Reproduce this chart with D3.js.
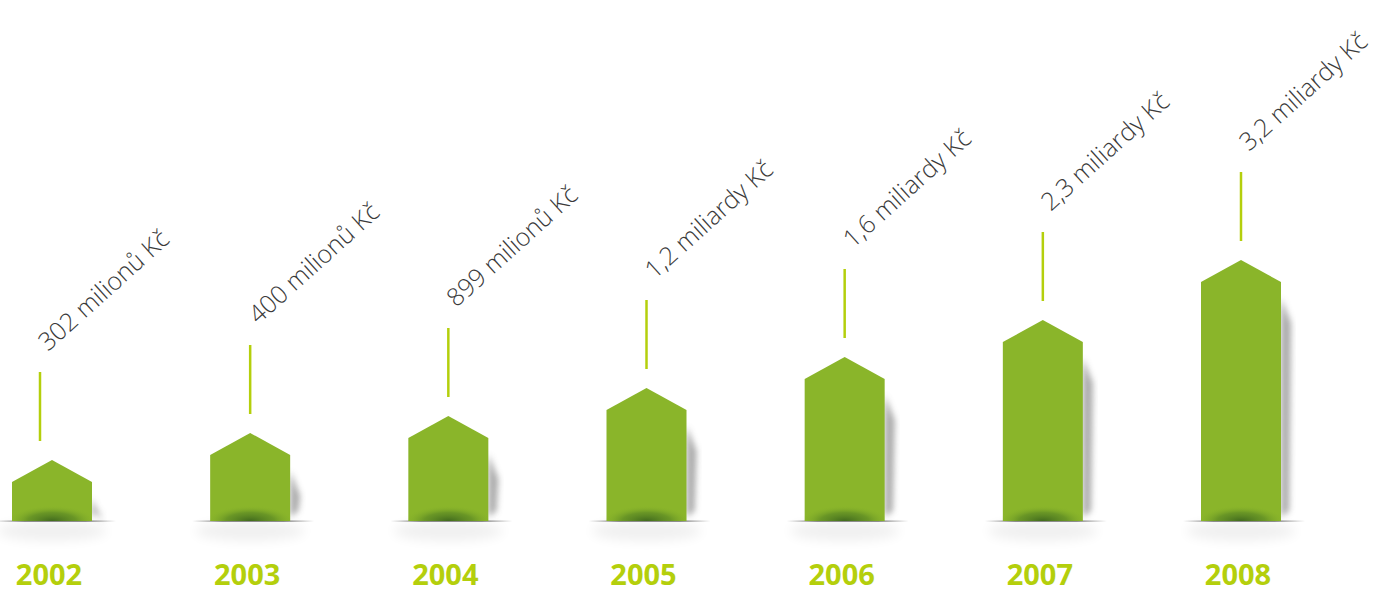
<!DOCTYPE html>
<html>
<head>
<meta charset="utf-8">
<script src="https://cdn.jsdelivr.net/npm/d3@7"></script>
<style>
  body { margin: 0; background: #fff; }
  svg { display: block; }
</style>
</head>
<body>
<script>
// data
let years = ['2002', '2003', '2004', '2005', '2006', '2007', '2008'];
let labels = ['302 milionů Kč', '400 milionů Kč', '899 milionů Kč', '1,2 miliardy Kč',
              '1,6 miliardy Kč', '2,3 miliardy Kč', '3,2 miliardy Kč'];
// bar height to the roof peak (the drawing is not to scale)
let barLevel = [61, 88, 105, 133, 164, 201, 261];

let W = 1373, H = 593;
let base = 521;
let barW = 80, roof = 22;

let svg = d3.select('body').append('svg')
  .attr('width', W).attr('height', H);

let defs = svg.append('defs');
defs.append('filter').attr('id', 'blur6').attr('x', '-50%').attr('y', '-50%').attr('width', '200%').attr('height', '200%')
  .append('feGaussianBlur').attr('stdDeviation', 6);
defs.append('filter').attr('id', 'blur3').attr('x', '-50%').attr('y', '-50%').attr('width', '200%').attr('height', '200%')
  .append('feGaussianBlur').attr('stdDeviation', 3);

let foot = defs.append('radialGradient').attr('id', 'foot')
  .attr('cx', '50%').attr('cy', '100%').attr('r', '55%');
foot.append('stop').attr('offset', '0%').attr('stop-color', '#3d661d').attr('stop-opacity', 0.95);
foot.append('stop').attr('offset', '55%').attr('stop-color', '#4f7d22').attr('stop-opacity', 0.55);
foot.append('stop').attr('offset', '100%').attr('stop-color', '#8ab52a').attr('stop-opacity', 0);

let floorLine = defs.append('linearGradient').attr('id', 'floorLine');
floorLine.append('stop').attr('offset', '0%').attr('stop-color', '#444').attr('stop-opacity', 0);
floorLine.append('stop').attr('offset', '25%').attr('stop-color', '#444').attr('stop-opacity', 0.85);
floorLine.append('stop').attr('offset', '75%').attr('stop-color', '#444').attr('stop-opacity', 0.85);
floorLine.append('stop').attr('offset', '100%').attr('stop-color', '#444').attr('stop-opacity', 0);

let x = d3.scalePoint()
  .domain(years)
  .range([52, 1241]);

let y = d3.scaleLinear()
  .domain([0, 300])
  .range([base, base - 300]);

let g = svg.selectAll('g.bar')
  .data(years)
  .enter().append('g')
  .attr('class', 'bar');

// soft shadow under the floor
g.append('ellipse')
  .attr('cx', d => x(d))
  .attr('cy', base + 10)
  .attr('rx', 55).attr('ry', 10)
  .attr('fill', '#000').attr('opacity', 0.06)
  .attr('filter', 'url(#blur6)');

// shadow to the right side
g.append('path')
  .attr('d', (d, i) => {
    let r = x(d) + barW / 2;
    let top = y(barLevel[i]) + roof + 16;
    return `M${r},${top} L${r + 10},${top + 25} L${r + 8},${base - 10} L${r},${base - 4} Z`;
  })
  .attr('fill', '#555').attr('opacity', 0.5)
  .attr('filter', 'url(#blur3)');

// floor line
g.append('rect')
  .attr('x', d => x(d) - barW / 2 - 18)
  .attr('y', base - 0.5)
  .attr('width', barW + 42)
  .attr('height', 1.2)
  .attr('fill', 'url(#floorLine)');

// house-shaped bar
g.append('path')
  .attr('d', (d, i) => {
    let cx = x(d), t = y(barLevel[i]);
    let l = cx - barW / 2, r = cx + barW / 2;
    return `M${l},${base} L${l},${t + roof} L${cx},${t} L${r},${t + roof} L${r},${base} Z`;
  })
  .attr('fill', '#8ab52a');

// darker foot of the bar
g.append('rect')
  .attr('x', d => x(d) - barW / 2)
  .attr('y', base - 28)
  .attr('width', barW)
  .attr('height', 28)
  .attr('fill', 'url(#foot)');

// marker line above each bar
let lineX = (d, i) => x(d) - (i === 0 ? 12 : 0);
g.append('line')
  .attr('x1', lineX).attr('x2', lineX)
  .attr('y1', (d, i) => y(barLevel[i]) - 88)
  .attr('y2', (d, i) => y(barLevel[i]) - 19)
  .attr('stroke', '#b4cf0c')
  .attr('stroke-width', 2.5);

// value labels
g.append('text')
  .attr('transform', (d, i) => `translate(${lineX(d, i) + 8},${y(barLevel[i]) - 108}) rotate(-42)`)
  .attr('font-family', 'Open Sans, sans-serif')
  .attr('font-weight', 300)
  .attr('font-size', 25)
  .attr('fill', '#3a3a3a')
  .text((d, i) => labels[i]);

// year labels
g.append('text')
  .attr('x', d => x(d) - 3)
  .attr('y', 585)
  .attr('text-anchor', 'middle')
  .attr('font-family', 'Open Sans, sans-serif')
  .attr('font-weight', 700)
  .attr('font-size', 29)
  .attr('fill', '#b4cf0c')
  .text(d => d);
</script>
</body>
</html>
